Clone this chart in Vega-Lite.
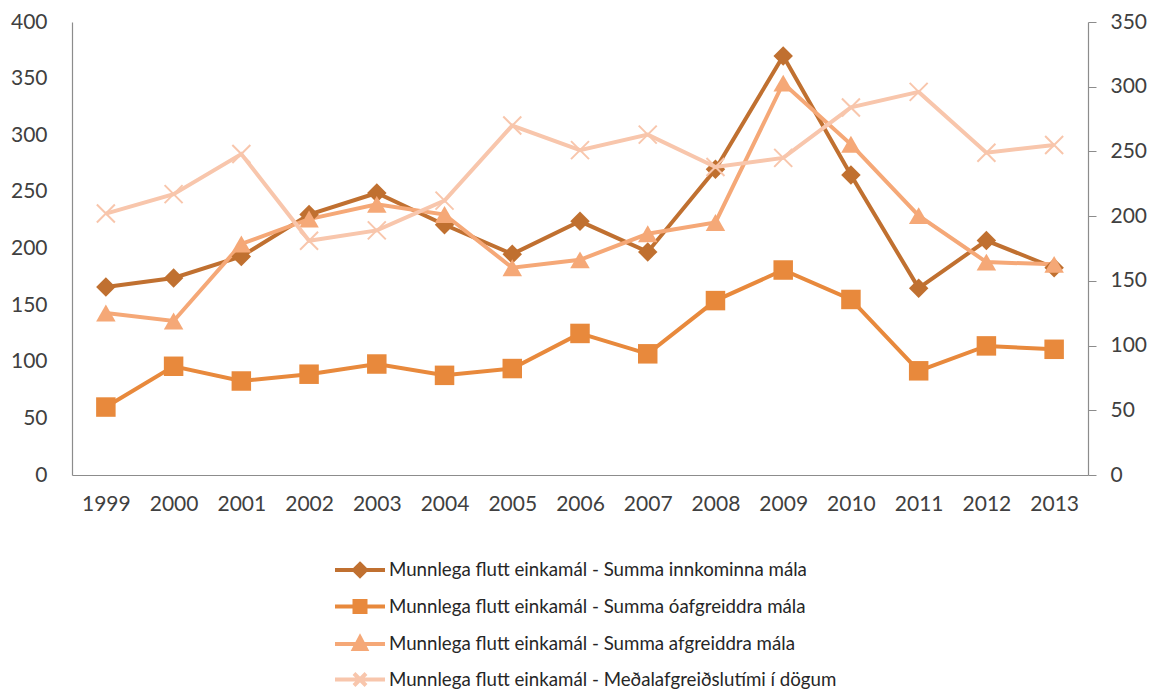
{
  "$schema": "https://vega.github.io/schema/vega-lite/v6.json",
  "width": 1016,
  "height": 453,
  "autosize": "none",
  "padding": {"left": 72, "top": 22, "right": 71, "bottom": 216},
  "config": {
    "view": {"stroke": null},
    "font": "Lato",
    "axis": {"labelFont": "Lato", "labelFontSize": 21, "labelColor": "#404040", "domainColor": "#8c8c8c", "domainWidth": 1.2, "tickColor": "#8c8c8c", "grid": false, "title": null}
  },
  "data": {"values": [
    {"year": "1999", "series": "Munnlega flutt einkamál - Summa innkominna mála", "value": 166},
    {"year": "2000", "series": "Munnlega flutt einkamál - Summa innkominna mála", "value": 174},
    {"year": "2001", "series": "Munnlega flutt einkamál - Summa innkominna mála", "value": 193},
    {"year": "2002", "series": "Munnlega flutt einkamál - Summa innkominna mála", "value": 230},
    {"year": "2003", "series": "Munnlega flutt einkamál - Summa innkominna mála", "value": 249},
    {"year": "2004", "series": "Munnlega flutt einkamál - Summa innkominna mála", "value": 221},
    {"year": "2005", "series": "Munnlega flutt einkamál - Summa innkominna mála", "value": 195},
    {"year": "2006", "series": "Munnlega flutt einkamál - Summa innkominna mála", "value": 224},
    {"year": "2007", "series": "Munnlega flutt einkamál - Summa innkominna mála", "value": 197},
    {"year": "2008", "series": "Munnlega flutt einkamál - Summa innkominna mála", "value": 270},
    {"year": "2009", "series": "Munnlega flutt einkamál - Summa innkominna mála", "value": 370},
    {"year": "2010", "series": "Munnlega flutt einkamál - Summa innkominna mála", "value": 265},
    {"year": "2011", "series": "Munnlega flutt einkamál - Summa innkominna mála", "value": 165},
    {"year": "2012", "series": "Munnlega flutt einkamál - Summa innkominna mála", "value": 207},
    {"year": "2013", "series": "Munnlega flutt einkamál - Summa innkominna mála", "value": 183},
    {"year": "1999", "series": "Munnlega flutt einkamál - Summa óafgreiddra mála", "value": 60},
    {"year": "2000", "series": "Munnlega flutt einkamál - Summa óafgreiddra mála", "value": 96},
    {"year": "2001", "series": "Munnlega flutt einkamál - Summa óafgreiddra mála", "value": 83},
    {"year": "2002", "series": "Munnlega flutt einkamál - Summa óafgreiddra mála", "value": 89},
    {"year": "2003", "series": "Munnlega flutt einkamál - Summa óafgreiddra mála", "value": 98},
    {"year": "2004", "series": "Munnlega flutt einkamál - Summa óafgreiddra mála", "value": 88},
    {"year": "2005", "series": "Munnlega flutt einkamál - Summa óafgreiddra mála", "value": 94},
    {"year": "2006", "series": "Munnlega flutt einkamál - Summa óafgreiddra mála", "value": 125},
    {"year": "2007", "series": "Munnlega flutt einkamál - Summa óafgreiddra mála", "value": 107},
    {"year": "2008", "series": "Munnlega flutt einkamál - Summa óafgreiddra mála", "value": 154},
    {"year": "2009", "series": "Munnlega flutt einkamál - Summa óafgreiddra mála", "value": 181},
    {"year": "2010", "series": "Munnlega flutt einkamál - Summa óafgreiddra mála", "value": 155},
    {"year": "2011", "series": "Munnlega flutt einkamál - Summa óafgreiddra mála", "value": 92},
    {"year": "2012", "series": "Munnlega flutt einkamál - Summa óafgreiddra mála", "value": 114},
    {"year": "2013", "series": "Munnlega flutt einkamál - Summa óafgreiddra mála", "value": 111},
    {"year": "1999", "series": "Munnlega flutt einkamál - Summa afgreiddra mála", "value": 143},
    {"year": "2000", "series": "Munnlega flutt einkamál - Summa afgreiddra mála", "value": 136},
    {"year": "2001", "series": "Munnlega flutt einkamál - Summa afgreiddra mála", "value": 204},
    {"year": "2002", "series": "Munnlega flutt einkamál - Summa afgreiddra mála", "value": 226},
    {"year": "2003", "series": "Munnlega flutt einkamál - Summa afgreiddra mála", "value": 239},
    {"year": "2004", "series": "Munnlega flutt einkamál - Summa afgreiddra mála", "value": 230},
    {"year": "2005", "series": "Munnlega flutt einkamál - Summa afgreiddra mála", "value": 183},
    {"year": "2006", "series": "Munnlega flutt einkamál - Summa afgreiddra mála", "value": 190},
    {"year": "2007", "series": "Munnlega flutt einkamál - Summa afgreiddra mála", "value": 213},
    {"year": "2008", "series": "Munnlega flutt einkamál - Summa afgreiddra mála", "value": 223},
    {"year": "2009", "series": "Munnlega flutt einkamál - Summa afgreiddra mála", "value": 346},
    {"year": "2010", "series": "Munnlega flutt einkamál - Summa afgreiddra mála", "value": 292},
    {"year": "2011", "series": "Munnlega flutt einkamál - Summa afgreiddra mála", "value": 229},
    {"year": "2012", "series": "Munnlega flutt einkamál - Summa afgreiddra mála", "value": 188},
    {"year": "2013", "series": "Munnlega flutt einkamál - Summa afgreiddra mála", "value": 186},
    {"year": "1999", "series": "Munnlega flutt einkamál - Meðalafgreiðslutími í dögum", "value": 202},
    {"year": "2000", "series": "Munnlega flutt einkamál - Meðalafgreiðslutími í dögum", "value": 217},
    {"year": "2001", "series": "Munnlega flutt einkamál - Meðalafgreiðslutími í dögum", "value": 248},
    {"year": "2002", "series": "Munnlega flutt einkamál - Meðalafgreiðslutími í dögum", "value": 181},
    {"year": "2003", "series": "Munnlega flutt einkamál - Meðalafgreiðslutími í dögum", "value": 189},
    {"year": "2004", "series": "Munnlega flutt einkamál - Meðalafgreiðslutími í dögum", "value": 212},
    {"year": "2005", "series": "Munnlega flutt einkamál - Meðalafgreiðslutími í dögum", "value": 270},
    {"year": "2006", "series": "Munnlega flutt einkamál - Meðalafgreiðslutími í dögum", "value": 251},
    {"year": "2007", "series": "Munnlega flutt einkamál - Meðalafgreiðslutími í dögum", "value": 263},
    {"year": "2008", "series": "Munnlega flutt einkamál - Meðalafgreiðslutími í dögum", "value": 238},
    {"year": "2009", "series": "Munnlega flutt einkamál - Meðalafgreiðslutími í dögum", "value": 245},
    {"year": "2010", "series": "Munnlega flutt einkamál - Meðalafgreiðslutími í dögum", "value": 284},
    {"year": "2011", "series": "Munnlega flutt einkamál - Meðalafgreiðslutími í dögum", "value": 296},
    {"year": "2012", "series": "Munnlega flutt einkamál - Meðalafgreiðslutími í dögum", "value": 249},
    {"year": "2013", "series": "Munnlega flutt einkamál - Meðalafgreiðslutími í dögum", "value": 255}
  ]},
  "encoding": {
    "x": {
      "field": "year", "type": "ordinal",
      "scale": {"type": "point", "padding": 0.5},
      "axis": {"labelAngle": 0, "ticks": false, "labelPadding": 18, "domain": true}
    },
    "color": {
      "field": "series", "type": "nominal",
      "scale": {
        "domain": [
          "Munnlega flutt einkamál - Summa innkominna mála",
          "Munnlega flutt einkamál - Summa óafgreiddra mála",
          "Munnlega flutt einkamál - Summa afgreiddra mála",
          "Munnlega flutt einkamál - Meðalafgreiðslutími í dögum"
        ],
        "range": ["#C07030", "#E8893C", "#F5A877", "#F8C6AC"]
      },
      "legend": {
        "title": null,
        "orient": "none",
        "legendX": 276,
        "legendY": 536,
        "direction": "vertical",
        "padding": 0,
        "labelFont": "Lato",
        "labelFontSize": 18.7,
        "labelColor": "#262626",
        "labelOffset": 17,
        "labelLimit": 800,
        "rowPadding": 8.5,
        "symbolSize": 400,
        "symbolStrokeWidth": 4,
        "symbolOpacity": 1,
        "encode": {
          "symbols": {
            "update": {
              "shape": {"signal": "datum.index == 0 ? 'M-2.5,0H2.5M0,-0.6L0.6,0L0,0.6L-0.6,0Z' : datum.index == 1 ? 'M-2.5,0H2.5M-0.55,-0.55H0.55V0.55H-0.55Z' : datum.index == 2 ? 'M-2.5,0H2.5M0,-0.65L0.6,0.5H-0.6Z' : 'M-2.5,0H2.5M-0.6,-0.6L0.6,0.6M-0.6,0.6L0.6,-0.6'"},
              "fill": {"scale": "color", "field": "value"},
              "stroke": {"scale": "color", "field": "value"},
              "strokeWidth": {"value": 4},
              "opacity": {"value": 1}
            }
          }
        }
      }
    }
  },
  "layer": [
    {
      "transform": [{"filter": "datum.series != 'Munnlega flutt einkamál - Meðalafgreiðslutími í dögum'"}],
      "encoding": {
        "y": {
          "field": "value", "type": "quantitative",
          "scale": {"domain": [0, 400], "nice": false},
          "axis": {"orient": "left", "values": [0, 50, 100, 150, 200, 250, 300, 350, 400], "ticks": false, "labelPadding": 25}
        }
      },
      "layer": [
        {"mark": {"type": "line", "strokeWidth": 4}},
        {
          "mark": {"type": "point", "filled": true, "opacity": 1, "size": 380},
          "encoding": {
            "shape": {
              "field": "series", "type": "nominal", "legend": null,
              "scale": {
                "domain": [
                  "Munnlega flutt einkamál - Summa innkominna mála",
                  "Munnlega flutt einkamál - Summa óafgreiddra mála",
                  "Munnlega flutt einkamál - Summa afgreiddra mála"
                ],
                "range": ["diamond", "square", "triangle-up"]
              }
            }
          }
        }
      ]
    },
    {
      "transform": [{"filter": "datum.series == 'Munnlega flutt einkamál - Meðalafgreiðslutími í dögum'"}],
      "encoding": {
        "y": {
          "field": "value", "type": "quantitative",
          "scale": {"domain": [0, 350], "nice": false},
          "axis": {"orient": "right", "values": [0, 50, 100, 150, 200, 250, 300, 350], "ticks": true, "tickSize": 8, "labelPadding": 14}
        }
      },
      "layer": [
        {"mark": {"type": "line", "strokeWidth": 4}},
        {"mark": {"type": "point", "filled": false, "opacity": 1, "size": 324, "strokeWidth": 2, "shape": "M-1,-1L1,1M-1,1L1,-1"}}
      ]
    }
  ],
  "resolve": {"scale": {"y": "independent"}}
}
